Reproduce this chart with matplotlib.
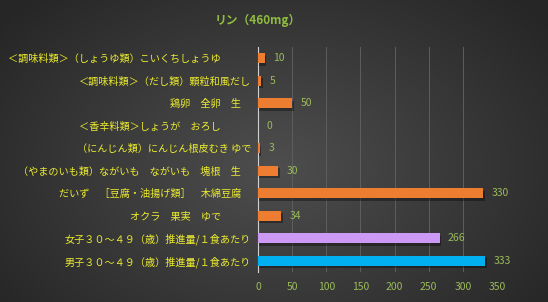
import numpy as np
import matplotlib
matplotlib.use("Agg")
import matplotlib.pyplot as plt
import matplotlib.patheffects as pe

plt.rcParams['font.family'] = ['Noto Sans CJK JP', 'DejaVu Sans']

# data (top to bottom)
labels = [
    "＜調味料類＞（しょうゆ類）こいくちしょうゆ\u3000\u3000\u3000",
    "＜調味料類＞（だし類）顆粒和風だし",
    "鶏卵　全卵　生\u3000",
    "＜香辛料類＞しょうが　おろし\u3000\u3000\u3000",
    "（にんじん類）にんじん根皮むき ゆで",
    "（やまのいも類）ながいも　ながいも　塊根　生\u3000",
    "だいず　［豆腐・油揚げ類］　木綿豆腐\u3000",
    "オクラ　果実　ゆで\u3000\u3000\u3000",
    "女子３０～４９（歳）推進量/１食あたり",
    "男子３０～４９（歳）推進量/１食あたり",
]
values = [10, 5, 50, 0, 3, 30, 330, 34, 266, 333]
colors = ["#ed7d31"] * 8 + ["#cc99f5", "#00b0f0"]
title = "リン（460mg）"
xticks = [0, 50, 100, 150, 200, 250, 300, 350]

W, H = 548, 302
fig = plt.figure(figsize=(W / 100, H / 100), dpi=100)

# radial gradient background
bg = fig.add_axes([0, 0, 1, 1])
yy, xx = np.mgrid[0:H, 0:W]
r = np.sqrt(((xx - W * 0.5) / (W * 0.6)) ** 2 + ((yy - H * 0.55) / (H * 0.75)) ** 2)
shade = np.clip(0x4e - r * 0x26, 0x26, 0x4e) / 255.0
bg.imshow(np.dstack([shade] * 3), aspect='auto', extent=[0, 1, 0, 1])
bg.axis('off')

ax = fig.add_axes([258 / W, 1 - 272 / H, (497 - 258) / W, (272 - 47) / H])
ax.patch.set_alpha(0)

y = np.arange(len(values))
bars = ax.barh(y, values, height=0.46, color=colors, zorder=3)
for b in bars:
    b.set_path_effects([pe.SimplePatchShadow(offset=(1, -1.8), shadow_rgbFace='black', alpha=0.35), pe.Normal()])

for yi, v in zip(y, values):
    ax.annotate(str(v), (v, yi), xytext=(6, 0), textcoords='offset points',
                va='center', ha='left', color='#9bbb59', fontsize=7.5)

ax.set_xlim(0, 350)
ax.set_ylim(len(values) - 0.5, -0.5)
ax.set_yticks(y)
ax.set_yticklabels(labels, color='#ecec30', fontsize=7.3)
ax.set_xticks(xticks)
ax.set_xticklabels([str(t) for t in xticks], color='#9bbb59', fontsize=7.5)
ax.tick_params(length=0, pad=5)
ax.tick_params(axis='x', pad=7)
ax.grid(axis='x', color='#5e5e5e', lw=0.7, zorder=0)
for s in ['top', 'right', 'bottom']:
    ax.spines[s].set_visible(False)
ax.spines['left'].set_color('#d0d0d0')
ax.spines['left'].set_linewidth(0.8)

fig.text(258 / W, 1 - 20 / H, title, color='#8fbc3f', fontsize=8.5,
         fontweight='bold', ha='center', va='center')

fig.savefig("out.png", dpi=100)
